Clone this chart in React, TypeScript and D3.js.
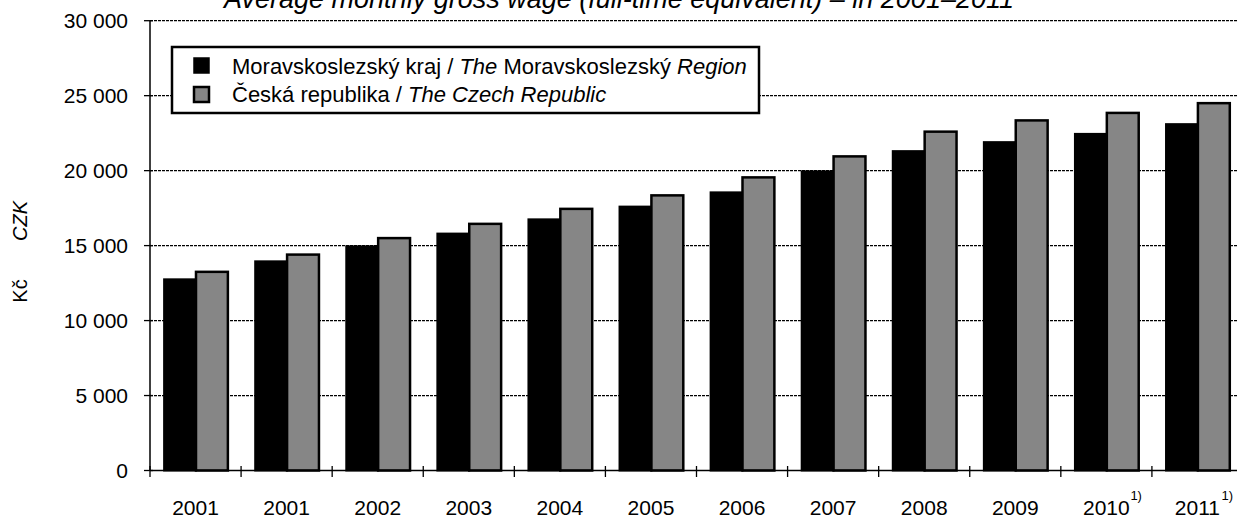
import React from 'react';
import * as d3 from 'd3';

// categories (the first year is repeated in the source chart)
const years = ['2001', '2001', '2002', '2003', '2004', '2005', '2006', '2007', '2008', '2009', '2010', '2011'];
const footnoted = [false, false, false, false, false, false, false, false, false, false, true, true];
const regionWage = [12750, 13950, 14950, 15800, 16750, 17600, 18550, 19950, 21300, 21900, 22450, 23100];
const czechWage = [13250, 14400, 15500, 16450, 17450, 18350, 19550, 20950, 22600, 23350, 23850, 24500];
const yTicks = [0, 5000, 10000, 15000, 20000, 25000, 30000];
const seriesNames = ['region', 'czech'];

const W = 1237;
const H = 518;
const FONT = '"Liberation Sans", Arial, sans-serif';

const App = () => {
    const x = d3.scaleBand<number>()
        .domain(years.map((_, i) => i))
        .range([150, 1243])
        .padding(0);
    const bw = x.bandwidth();
    const x1 = d3.scaleBand<string>()
        .domain(seriesNames)
        .range([bw * 0.155, bw * 0.855])
        .padding(0);
    const y = d3.scaleLinear().domain([0, 30000]).range([470.5, 20.7]);

    const fmt = (v: number) => d3.format(',')(v).replace(/,/g, '\u00a0');

    const rows = years.map((yr, i) => ({ i, yr, region: regionWage[i], czech: czechWage[i] }));

    return (
        <div style={{ position: 'absolute', left: 0, top: 0 }}>
            <svg width={W} height={H} style={{ display: 'block', background: '#fff' }} fontFamily={FONT}>
                {/* title, cut off at the top like in the source */}
                <text x={619} y={8} textAnchor="middle" fontSize={27} fontStyle="italic">
                    Average monthly gross wage (full-time equivalent) – in 2001–2011
                </text>

                {/* gridlines */}
                {yTicks.filter(t => t > 0).map(t => (
                    <line key={t} x1={150} x2={W} y1={y(t)} y2={y(t)}
                        stroke="#000" strokeWidth={1.3} strokeDasharray="3 1" />
                ))}

                {/* bars */}
                {rows.map(r => (
                    <g key={r.i} transform={`translate(${x(r.i)},0)`}>
                        <rect x={x1('region')} y={y(r.region)} width={x1.bandwidth()}
                            height={y(0) - y(r.region)} fill="#000" stroke="#000" strokeWidth={2} />
                        <rect x={x1('czech')} y={y(r.czech)} width={x1.bandwidth()}
                            height={y(0) - y(r.czech)} fill="#868686" stroke="#000" strokeWidth={2.5} />
                    </g>
                ))}

                {/* y axis */}
                <line x1={150} x2={150} y1={y(30000)} y2={y(0)} stroke="#000" strokeWidth={1.5} />
                {yTicks.map(t => (
                    <g key={t}>
                        <line x1={144} x2={153} y1={y(t)} y2={y(t)} stroke="#000" strokeWidth={1.3} />
                        <text x={128} y={y(t) + 7.5} textAnchor="end" fontSize={21}>{fmt(t)}</text>
                    </g>
                ))}

                {/* x axis */}
                <line x1={150} x2={W} y1={y(0)} y2={y(0)} stroke="#000" strokeWidth={1.5} />
                {years.map((_, i) => (
                    <line key={i} x1={x(i)} x2={x(i)} y1={466} y2={477} stroke="#000" strokeWidth={1.3} />
                ))}
                {years.map((yr, i) => {
                    const cx = (x(i) as number) + bw / 2;
                    return (
                        <g key={i}>
                            <text x={cx} y={514.5} textAnchor="middle" fontSize={21}>{yr}</text>
                            {footnoted[i] && (
                                <text x={cx + 24} y={500} fontSize={13}>1)</text>
                            )}
                        </g>
                    );
                })}

                {/* y axis title */}
                <text transform="translate(27,291) rotate(-90)" textAnchor="middle" fontSize={20}>Kč</text>
                <text transform="translate(27,221) rotate(-90)" textAnchor="middle" fontSize={20} fontStyle="italic">CZK</text>

                {/* legend */}
                <rect x={172} y={47} width={587} height={66} fill="#fff" stroke="#000" strokeWidth={2.5} />
                <rect x={194} y={58} width={15} height={15} fill="#000" stroke="#000" strokeWidth={1.5} />
                <rect x={194} y={87} width={15} height={15} fill="#868686" stroke="#000" strokeWidth={2.5} />
                <text x={232} y={74} fontSize={22}>
                    Moravskoslezský kraj / <tspan fontStyle="italic">The</tspan> Moravskoslezský <tspan fontStyle="italic">Region</tspan>
                </text>
                <text x={232} y={102} fontSize={22}>
                    Česká republika / <tspan fontStyle="italic">The Czech Republic</tspan>
                </text>
            </svg>
        </div>
    );
};

export default App;
